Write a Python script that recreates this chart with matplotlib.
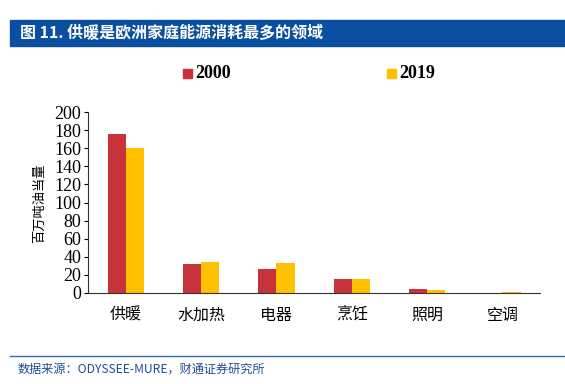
import numpy as np
import matplotlib.pyplot as plt
from matplotlib.patches import Rectangle

plt.rcParams['font.family'] = ['Liberation Serif', 'Noto Sans CJK SC']

categories = ['供暖', '水加热', '电器', '烹饪', '照明', '空调']
v2000 = [176, 32, 26, 15, 4.5, 0.3]
v2019 = [160, 34, 33, 15.5, 3, 0.8]
yticks = list(range(0, 201, 20))

red = '#C8323A'
yellow = '#FFC000'
blue = '#0B50A0'

fig = plt.figure(figsize=(5.65, 3.84), dpi=100)
ax = fig.add_axes([0.156, 0.237, 0.80, 0.471])

x = np.arange(len(categories))
w = 0.24
ax.bar(x - w / 2, v2000, w, color=red, label='2000')
ax.bar(x + w / 2, v2019, w, color=yellow, label='2019')

ax.set_xlim(-0.5, len(categories) - 0.5)
ax.set_ylim(0, 200)
ax.set_yticks(yticks)
ax.tick_params(axis='y', labelsize=13, length=3, direction='out', pad=2)
ax.set_xticks(x)
ax.set_xticklabels(categories, family=['Noto Sans CJK SC'], fontsize=11.5)
ax.tick_params(axis='x', length=0, pad=10)
for s in ['top', 'right']:
    ax.spines[s].set_visible(False)
ax.spines['left'].set_color('#333333')
ax.spines['bottom'].set_color('#333333')

# y label (placed in figure coords to sit further left)
fig.text(40 / 565, 1 - 203 / 384, '百万吨油当量', family=['Noto Sans CJK SC'],
         fontsize=9.5, rotation=90, ha='center', va='center')

# legend
fig.patches.append(Rectangle((183 / 565, 1 - 78 / 384), 9 / 565, 9 / 384,
                             transform=fig.transFigure, color=red))
fig.text(195 / 565, 1 - 74 / 384, '2000', fontsize=13, fontweight='bold', va='center')
fig.patches.append(Rectangle((387 / 565, 1 - 78 / 384), 9 / 565, 9 / 384,
                             transform=fig.transFigure, color=yellow))
fig.text(399 / 565, 1 - 74 / 384, '2019', fontsize=13, fontweight='bold', va='center')

# title band
fig.patches.append(Rectangle((10 / 565, 1 - 46 / 384), 555 / 565, 26 / 384,
                             transform=fig.transFigure, color=blue))
fig.text(20 / 565, 1 - 33 / 384, '图 11. 供暖是欧洲家庭能源消耗最多的领域',
         family=['Noto Sans CJK SC'], color='white', fontsize=11.5,
         fontweight='bold', va='center')

# footer
fig.add_artist(plt.Line2D([10 / 565, 1], [1 - 356 / 384] * 2,
                          transform=fig.transFigure, color='#2E6DB8', lw=1))
fig.text(18 / 565, 1 - 369 / 384, '数据来源：ODYSSEE-MURE，财通证券研究所',
         family=['Noto Sans CJK SC'], color='#1F4E96', fontsize=8.7,
         fontweight='medium', va='center')

fig.savefig('out.png', dpi=100)
